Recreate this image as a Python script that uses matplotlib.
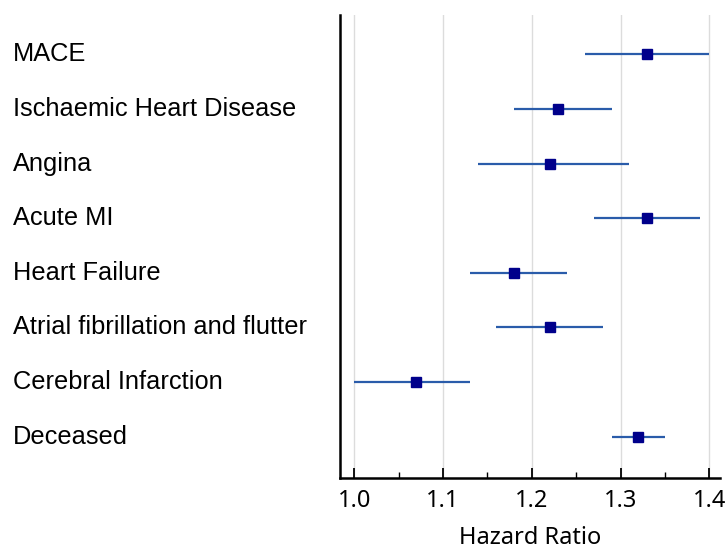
import matplotlib
matplotlib.use("Agg")
import matplotlib.pyplot as plt
import matplotlib.transforms as mtransforms
from matplotlib.ticker import MultipleLocator

# outcomes, top to bottom
outcomes = ["MACE", "Ischaemic Heart Disease", "Angina", "Acute MI",
            "Heart Failure", "Atrial fibrillation and flutter",
            "Cerebral Infarction", "Deceased"]
hr = [1.33, 1.23, 1.22, 1.33, 1.18, 1.22, 1.07, 1.32]
ci_low = [1.26, 1.18, 1.14, 1.27, 1.13, 1.16, 1.00, 1.29]
ci_high = [1.40, 1.29, 1.31, 1.39, 1.24, 1.28, 1.13, 1.35]
xticks = [1.0, 1.1, 1.2, 1.3, 1.4]

fig = plt.figure(figsize=(7.26, 5.49), dpi=100)
ax = fig.add_axes([0.4683, 0.1293, 0.5234, 0.8434])

rows = list(range(len(outcomes)))
ax.hlines(rows, ci_low, ci_high, color="#2a5caa", lw=1.6, zorder=2)
ax.plot(hr, rows, "s", color="#00008b", markersize=7, zorder=3)

ax.set_ylim(7.76, -0.72)
ax.set_xlim(0.984, 1.412)
ax.set_xticks(xticks)
ax.set_xticklabels([f"{t:.1f}" for t in xticks], family="Noto Sans", fontsize=17)
ax.xaxis.set_minor_locator(MultipleLocator(0.05))
ax.tick_params(axis="x", which="major", direction="in", length=7, width=1.3, pad=8)
ax.tick_params(axis="x", which="minor", direction="in", length=4, width=1)
ax.set_yticks([])
ax.grid(axis="x", color="#dcdcdc", lw=1)
ax.set_axisbelow(True)
for s in ["top", "right"]:
    ax.spines[s].set_visible(False)
for s in ["left", "bottom"]:
    ax.spines[s].set_linewidth(1.8)
ax.set_xlabel("Hazard Ratio", family="Noto Sans", fontsize=17, labelpad=9)

# outcome names at the left edge of the figure
trans = mtransforms.blended_transform_factory(fig.transFigure, ax.transData)
for i, name in enumerate(outcomes):
    ax.text(13 / 726, i, name, transform=trans, ha="left", va="center",
            family="Liberation Sans", fontsize=18.3)

fig.savefig("out.png", dpi=100)
